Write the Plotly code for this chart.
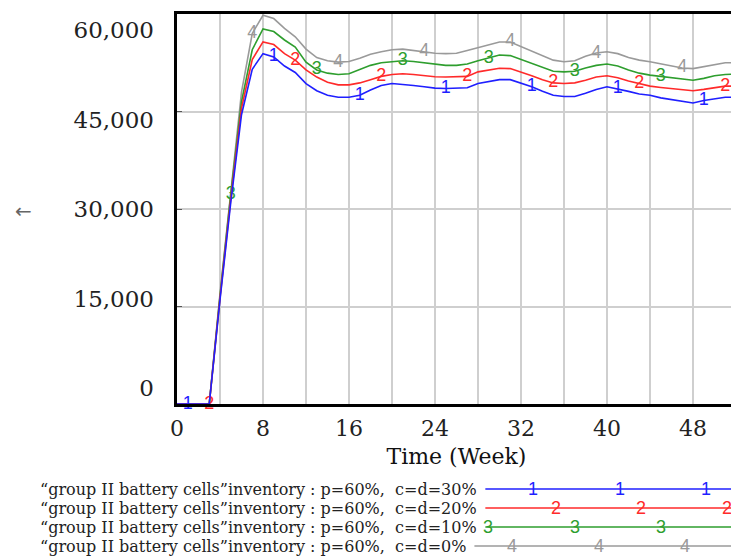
import plotly.graph_objects as go

# ---------------- data ----------------
weeks = list(range(53))

series_labels = [
    "\u201cgroup II battery cells\u201dinventory : p=60%,  c=d=30%",
    "\u201cgroup II battery cells\u201dinventory : p=60%,  c=d=20%",
    "\u201cgroup II battery cells\u201dinventory : p=60%,  c=d=10%",
    "\u201cgroup II battery cells\u201dinventory : p=60%,  c=d=0%",
]
series_marks = ["1", "2", "3", "4"]
series_colors = ["#1f1fff", "#ff2a2a", "#2e9e2e", "#9a9a9a"]

inv_cd30 = [0, 0, 0, 0, 16000, 31000, 44500, 51500, 53900, 53400,
            52000, 51000, 49300, 48200, 47500, 47200, 47200, 47500, 48300, 49000,
            49300, 49200, 49000, 48800, 48600, 48550, 48550, 48650, 49300, 49600,
            49900, 49900, 49400, 48800, 48100, 47500, 47300, 47300, 47800, 48400,
            48800, 48500, 48100, 47700, 47500, 47100, 46800, 46500, 46300, 46700,
            47000, 47200, 47200]
inv_cd20 = [0, 0, 0, 0, 16300, 31500, 45500, 53000, 55700, 55300,
            53900, 52900, 51400, 50300, 49500, 49100, 49100, 49400, 49900, 50400,
            50700, 50800, 50700, 50500, 50350, 50300, 50300, 50400, 51100, 51400,
            51650, 51600, 51100, 50500, 49900, 49400, 49300, 49400, 49800, 50300,
            50500, 50200, 49700, 49300, 48900, 48700, 48500, 48300, 48200, 48400,
            48700, 48900, 48900]
inv_cd10 = [0, 0, 0, 0, 16600, 32200, 46500, 54500, 57700, 57300,
            56000, 54900, 52600, 51400, 50900, 50700, 50800, 51400, 52100, 52500,
            52700, 52800, 52700, 52500, 52200, 52100, 52100, 52300, 52800, 53200,
            53700, 53600, 53000, 52400, 51800, 51200, 51100, 51200, 51700, 52100,
            52300, 52000, 51400, 50900, 50600, 50400, 50100, 49900, 49800, 50100,
            50500, 50700, 50750]
inv_cd0 = [0, 0, 0, 0, 17000, 33000, 48000, 57000, 59800, 59300,
           57800, 56500, 54600, 53300, 52800, 52600, 52700, 53200, 53800, 54200,
           54500, 54600, 54400, 54200, 53950, 53900, 53950, 54400, 54800, 55200,
           55700, 55700, 55000, 54300, 53600, 52900, 52650, 52800, 53500, 54000,
           54200, 53900, 53300, 52900, 52650, 52300, 52000, 51700, 51600, 51900,
           52300, 52500, 52500]
series_values = [inv_cd30, inv_cd20, inv_cd10, inv_cd0]
mark_first_week = [1, 3, 5, 7]   # numbered marks every 8 weeks

x_tick_vals = [0, 8, 16, 24, 32, 40, 48]
y_tick_vals = [0, 15000, 30000, 45000, 60000]
y_tick_text = ["0", "15,000", "30,000", "45,000", "60,000"]
x_title = "Time (Week)"
y_title = "\u2190"

# ---------------- layout geometry ----------------
# page body has an 8px margin, so the figure is drawn 8px in from the window corner
OFF = 8
WIN_W, WIN_H = 739, 556
W, H = WIN_W - OFF, WIN_H - OFF
# plot area in window pixels: x 177..739, y 14..404
PL, PR, PT, PB = 177, 739, 14, 404
ML, MR, MT, MB = PL - OFF, WIN_W - PR, PT - OFF, WIN_H - PB
PW, PH = W - ML - MR, H - MT - MB


def px_x(px):
    return (px - PL) / PW


def px_y(py):
    return (PB - py) / PH


SERIF = "DejaVu Serif"
fig = go.Figure()

# draw gray first, blue last (blue on top)
for idx in [3, 2, 1, 0]:
    vals = series_values[idx]
    txt = ["" for _ in weeks]
    for i in range(len(weeks)):
        if i >= mark_first_week[idx] and (i - mark_first_week[idx]) % 8 == 0:
            txt[i] = series_marks[idx]
    fig.add_trace(go.Scatter(
        x=weeks, y=vals, mode="lines+text", text=txt,
        textposition="middle center",
        textfont=dict(family="Liberation Sans", size=18, color=series_colors[idx]),
        line=dict(color=series_colors[idx], width=1.6),
        name=series_labels[idx], showlegend=False, hoverinfo="skip",
        cliponaxis=False,
    ))

# empty trace so the overlay axis carrying the tick labels is drawn
fig.add_trace(go.Scatter(x=[], y=[], yaxis="y2", showlegend=False, hoverinfo="skip"))

grid_col = "#cfcfcf"
fig.update_layout(
    width=W, height=H,
    margin=dict(l=ML, r=MR, t=MT, b=MB, pad=0),
    paper_bgcolor="white", plot_bgcolor="white",
    showlegend=False,
    xaxis=dict(
        range=[0, 52], tickvals=x_tick_vals, ticktext=[str(v) for v in x_tick_vals],
        showgrid=True, gridcolor=grid_col, gridwidth=1.5,
        minor=dict(dtick=4, tick0=0, showgrid=True, gridcolor=grid_col, gridwidth=1.5),
        showline=True, mirror=True, linecolor="black", linewidth=3,
        ticks="", zeroline=False,
        tickfont=dict(family=SERIF, size=22, color="#222"),
        ticklabelstandoff=3,
        title=dict(text=x_title, font=dict(family=SERIF, size=22, color="#111"), standoff=9),
    ),
    yaxis=dict(
        range=[0, 60000], dtick=15000, showticklabels=False,
        showgrid=True, gridcolor=grid_col, gridwidth=1.5,
        showline=True, mirror=True, linecolor="black", linewidth=3,
        ticks="inside", ticklen=5, tickcolor="#555", zeroline=False,
    ),
    yaxis2=dict(
        overlaying="y", anchor="x", side="left",
        range=[-2682, 62682], tickvals=y_tick_vals, ticktext=y_tick_text,
        showgrid=False, zeroline=False, showline=False, ticks="",
        tickfont=dict(family=SERIF, size=23, color="#222"),
        ticklabelstandoff=22,
    ),
)

# y title arrow
fig.add_annotation(x=px_x(23), y=px_y(211), xref="paper", yref="paper",
                   xanchor="center", yanchor="middle",
                   text=y_title, showarrow=False,
                   font=dict(family="DejaVu Sans", size=20, color="#666"))

# custom legend (text on left, sample line with numbered marks on right)
row_y = [489, 508, 527, 546]
line_start = [487, 487, 487, 476]
mark_px = [[535, 622, 709], [558, 643, 730], [490, 577, 664], [514, 601, 688]]
for i in range(4):
    fig.add_annotation(x=px_x(37), y=px_y(row_y[i]), xref="paper", yref="paper",
                       text=series_labels[i], showarrow=False, xanchor="left",
                       yanchor="middle",
                       font=dict(family=SERIF, size=16, color="#222"))
    fig.add_shape(type="line", xref="paper", yref="paper",
                  x0=px_x(line_start[i]), x1=px_x(WIN_W), y0=px_y(row_y[i]), y1=px_y(row_y[i]),
                  line=dict(color=series_colors[i], width=1.6))
    for mx in mark_px[i]:
        fig.add_annotation(x=px_x(mx), y=px_y(row_y[i]), xref="paper", yref="paper",
                           xanchor="center", yanchor="middle",
                           text=series_marks[i], showarrow=False,
                           font=dict(family="Liberation Sans", size=18, color=series_colors[i]))

fig.write_html("out.html")
